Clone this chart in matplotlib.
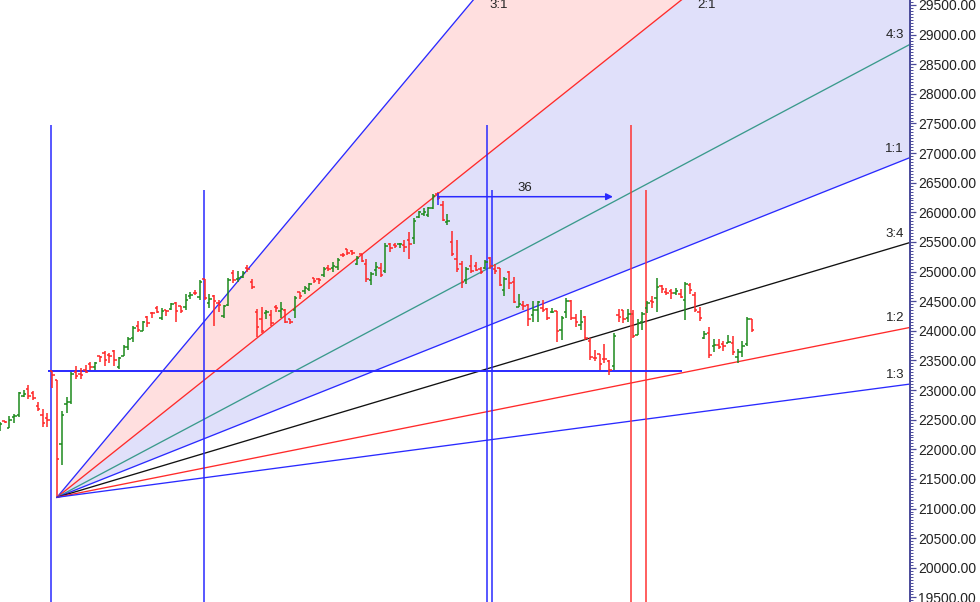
import numpy as np
import matplotlib
matplotlib.use("Agg")
import matplotlib.pyplot as plt
from matplotlib.collections import LineCollection
from matplotlib.ticker import MultipleLocator, FormatStrFormatter

plt.rcParams['font.family'] = ['Liberation Sans', 'DejaVu Sans']

# ---------------- data (daily bars, index 0 = swing-low bar) ----------------
bar_index = list(range(-12, 147))

opens = [
    22311, 22476, 22365, 22543, 22581, 22908, 23017, 22954, 22734, 22584, 22534, 23324,
    23162, 22082, 22770, 22794, 23306, 23269, 23332, 23443, 23388, 23570,
    23629, 23586, 23661, 23382, 23578, 23723, 23881, 24085, 23992, 24239,
    24304, 24385, 24224, 24344, 24366, 24477, 24417, 24404, 24593, 24638,
    24563, 24883, 24463, 24589, 24463, 24242, 24440, 24975, 24868, 24916,
    25064, 24817, 24317, 24200, 24302, 24260, 24402, 24335, 24357, 24195,
    24349, 24660, 24671, 24704, 24892, 24875, 24937, 25058, 25064, 25069,
    25288, 25374, 25341, 25125, 25290, 25130, 24852, 25032, 25068, 25018,
    25474, 25449, 25460, 25446, 25534, 25573, 25929, 25980, 25958, 26066,
    26316, 26123, 25843, 25499, 25219, 25120, 24860, 25100, 25102, 25040,
    25057, 25225, 25041, 25061, 24689, 24988, 24826, 24395, 24429, 24435,
    24263, 24344, 24387, 24364, 24316, 24330, 24006, 24322, 24508, 24218,
    24095, 24237, 23822, 23542, 23605, 23529, 23488, 23400, 24267, 24358,
    24215, 24287, 23927, 24150, 24383, 24508, 24559, 24755, 24657, 24675,
    24643, 24627, 24517, 24780, 24607, 24311, 23877, 23960, 23738, 23769,
    23775, 23801, 23796, 23560, 23637, 23783, 24207]
highs = [
    22466, 22480, 22557, 22597, 22971, 23005, 23091, 22976, 22798, 22675, 22621, 23325,
    23162, 22639, 22885, 23307, 23400, 23378, 23431, 23472, 23481, 23579,
    23665, 23625, 23668, 23558, 23754, 23889, 24087, 24174, 24164, 24248,
    24323, 24418, 24380, 24360, 24462, 24479, 24419, 24614, 24658, 24686,
    24866, 24883, 24617, 24603, 24524, 24443, 24890, 25032, 25003, 25017,
    25113, 24881, 24365, 24398, 24351, 24355, 24437, 24490, 24374, 24207,
    24584, 24661, 24760, 24814, 24896, 24887, 25078, 25108, 25165, 25231,
    25308, 25374, 25362, 25255, 25301, 25206, 24989, 25166, 25148, 25478,
    25477, 25489, 25485, 25528, 25661, 25907, 26015, 26072, 26095, 26318,
    26345, 26198, 25965, 25690, 25531, 25180, 25078, 25273, 25170, 25078,
    25196, 25251, 25129, 25063, 24915, 25011, 24911, 24626, 24499, 24457,
    24511, 24503, 24518, 24388, 24384, 24330, 24242, 24557, 24522, 24289,
    24351, 24254, 23873, 23675, 23606, 23780, 23507, 23956, 24366, 24358,
    24369, 24360, 24199, 24316, 24500, 24594, 24885, 24777, 24729, 24701,
    24715, 24699, 24819, 24808, 24647, 24410, 24005, 24072, 23869, 23867,
    23823, 23938, 23916, 23689, 23822, 24238, 24207]
lows = [
    22305, 22438, 22365, 22447, 22543, 22883, 22845, 22832, 22654, 22380, 22379, 23042,
    21211, 21736, 22611, 22761, 23191, 23190, 23281, 23341, 23342, 23467,
    23412, 23449, 23398, 23350, 23577, 23673, 23806, 23985, 23992, 24063,
    24218, 24294, 24179, 24252, 24346, 24150, 24294, 24346, 24542, 24609,
    24525, 24528, 24378, 24081, 24321, 24222, 24427, 24801, 24827, 24885,
    24988, 24711, 23897, 23964, 24196, 24087, 24325, 24223, 24125, 24108,
    24216, 24542, 24629, 24678, 24811, 24798, 24904, 25005, 24998, 25032,
    25238, 25274, 25274, 25119, 25164, 24829, 24781, 24926, 24915, 24974,
    25332, 25403, 25394, 25327, 25214, 25472, 25904, 25945, 25929, 26059,
    26216, 25849, 25793, 25269, 24999, 24719, 24783, 24979, 25012, 24952,
    25051, 25041, 24960, 24755, 24588, 24703, 24463, 24394, 24356, 24081,
    24144, 24149, 24321, 24182, 24293, 23816, 23843, 24215, 24189, 24073,
    24010, 23840, 23509, 23484, 23337, 23464, 23248, 23347, 24144, 24134,
    24155, 23873, 23927, 24014, 24293, 24382, 24310, 24643, 24602, 24531,
    24605, 24548, 24190, 24624, 24318, 24159, 23870, 23538, 23647, 23685,
    23653, 23800, 23599, 23460, 23563, 23751, 23981]
closes = [
    22429, 22466, 22494, 22564, 22944, 22934, 22908, 22863, 22674, 22452, 22495, 23249,
    21831, 22587, 22794, 23276, 23245, 23249, 23309, 23387, 23455, 23557,
    23516, 23567, 23501, 23537, 23721, 23868, 24044, 24010, 24141, 24133,
    24299, 24316, 24338, 24336, 24450, 24338, 24330, 24521, 24609, 24636,
    24829, 24551, 24529, 24498, 24430, 24423, 24864, 24865, 24886, 24983,
    25044, 24744, 24063, 23998, 24310, 24126, 24384, 24362, 24148, 24153,
    24561, 24594, 24723, 24798, 24840, 24851, 25043, 25052, 25086, 25189,
    25275, 25319, 25320, 25237, 25183, 24881, 24967, 25075, 24949, 25432,
    25399, 25427, 25463, 25421, 25460, 25846, 25998, 25999, 26066, 26283,
    26246, 25866, 25852, 25290, 25048, 24824, 25046, 25014, 25031, 24996,
    25165, 25092, 25003, 24776, 24883, 24808, 24491, 24453, 24416, 24192,
    24354, 24485, 24356, 24216, 24318, 24000, 24224, 24503, 24210, 24157,
    24150, 23885, 23559, 23533, 23443, 23518, 23338, 23907, 24234, 24205,
    24288, 23914, 24140, 24289, 24475, 24485, 24733, 24701, 24642, 24633,
    24664, 24569, 24795, 24692, 24351, 24210, 23952, 23588, 23753, 23728,
    23751, 23813, 23645, 23645, 23743, 24199, 24010]

# Gann fan
fan_origin_bar = 0
fan_origin_price = 21190
fan_unit = 32.0   # price per bar for the 1:1 line
fan_ratios = [3, 2, 4 / 3, 1, 3 / 4, 1 / 2, 1 / 3]
fan_labels = ['3:1', '2:1', '4:3', '1:1', '3:4', '1:2', '1:3']
fan_colors = ['#2a2aff', '#ff2a2a', '#3a9a8c', '#2a2aff', '#111111', '#ff2a2a', '#2a2aff']

# time-cycle vertical lines (bar index, top price, colour)
vline_bars = [-1.26, 30.9, 90.4, 91.4, 120.6, 123.7]
vline_tops = [27474, 26377, 27474, 26377, 27474, 26377]
vline_colors = ['#2a2aff', '#2a2aff', '#2a2aff', '#2a2aff', '#ff3333', '#ff3333']

# horizontal level
hline_price = 23325
hline_from, hline_to = -1.9, 131.2

# bar-count arrow
arrow_start, arrow_end = 80, 116.8
arrow_price = 26264
arrow_label = '36'
arrow_label_bar = 98.3

# y axis
y_ticks = list(range(19500, 30000, 500))

# ---------------- figure ----------------
W, H = 980, 602
fig = plt.figure(figsize=(W / 100, H / 100), dpi=100)
ax = fig.add_axes([0, 0, 910 / W, 1])

xmin, xmax = -11.975, 179.2
ymin, ymax = 19422.6, 29584.4
ax.set_xlim(xmin, xmax)
ax.set_ylim(ymin, ymax)

# fan fills
xs = np.linspace(fan_origin_bar, xmax + 5, 200)
d = xs - fan_origin_bar
ax.fill_between(xs, fan_origin_price + 2 * fan_unit * d, fan_origin_price + 3 * fan_unit * d,
                color='#ffdfdf', lw=0, zorder=0)
ax.fill_between(xs, fan_origin_price + 1 * fan_unit * d, fan_origin_price + 2 * fan_unit * d,
                color='#e0e0fa', lw=0, zorder=0)

# fan lines and labels
px_x = (xmax - xmin) / 910.0   # bar units per pixel
px_y = (ymax - ymin) / 602.0   # price per pixel
for r, lab, c in zip(fan_ratios, fan_labels, fan_colors):
    ax.plot(xs, fan_origin_price + r * fan_unit * d, color=c, lw=0.95, zorder=2)
    end_price = fan_origin_price + r * fan_unit * (xmax - fan_origin_bar)
    if end_price < ymax:
        ax.text(xmax - 6 * px_x, end_price + 9 * px_y, lab, ha='right', va='center',
                fontsize=9.5, color='#222222', zorder=6)
    else:
        cross = fan_origin_bar + (ymax - fan_origin_price) / (r * fan_unit)
        ax.text(cross + 16 * px_x, ymax - 5 * px_y, lab, ha='left', va='center',
                fontsize=9.5, color='#222222', zorder=6)

# vertical cycle lines
for xb, top, c in zip(vline_bars, vline_tops, vline_colors):
    ax.vlines(xb, ymin - 100, top, color=c, lw=1.1, zorder=3)

# horizontal level
ax.hlines(hline_price, hline_from, hline_to, color='#2a2aff', lw=1.4, zorder=3)

# arrow
ax.annotate('', xy=(arrow_end, arrow_price), xytext=(arrow_start, arrow_price),
            arrowprops=dict(arrowstyle='-|>', color='#2a2aff', lw=1.1,
                            mutation_scale=10, shrinkA=0, shrinkB=0), zorder=5)
ax.vlines(arrow_start, arrow_price - 8 * px_y, arrow_price + 4 * px_y, color='#2a2aff', lw=1.1, zorder=5)
ax.text(arrow_label_bar, arrow_price + 9 * px_y, arrow_label,
        ha='center', va='center', fontsize=9.5, color='#222222', zorder=6)

# OHLC bars
tick = 0.5
segs, cols = [], []
for xi, o, h, l, cl in zip(bar_index, opens, highs, lows, closes):
    col = '#1c8a1c' if cl >= o else '#ff2626'
    segs += [[(xi, l), (xi, h)], [(xi - tick, o), (xi, o)], [(xi, cl), (xi + tick, cl)]]
    cols += [col] * 3
ax.add_collection(LineCollection(segs, colors=cols, linewidths=1.1, zorder=4))

# axes styling
for s in ['left', 'top', 'bottom']:
    ax.spines[s].set_visible(False)
ax.spines['right'].set_color('#4a4a9a')
ax.spines['right'].set_linewidth(1.4)
ax.set_xticks([])
ax.yaxis.tick_right()
ax.set_yticks(y_ticks)
ax.yaxis.set_major_formatter(FormatStrFormatter('%.2f'))
ax.yaxis.set_minor_locator(MultipleLocator(50))
ax.tick_params(axis='y', which='major', length=4, width=0.9, color='#4a4a9a',
               labelsize=10, labelcolor='#222222', pad=2)
ax.tick_params(axis='y', which='minor', length=2.2, width=0.7, color='#4a4a9a')
ax.set_facecolor('white')

fig.savefig('out.png', dpi=100)
